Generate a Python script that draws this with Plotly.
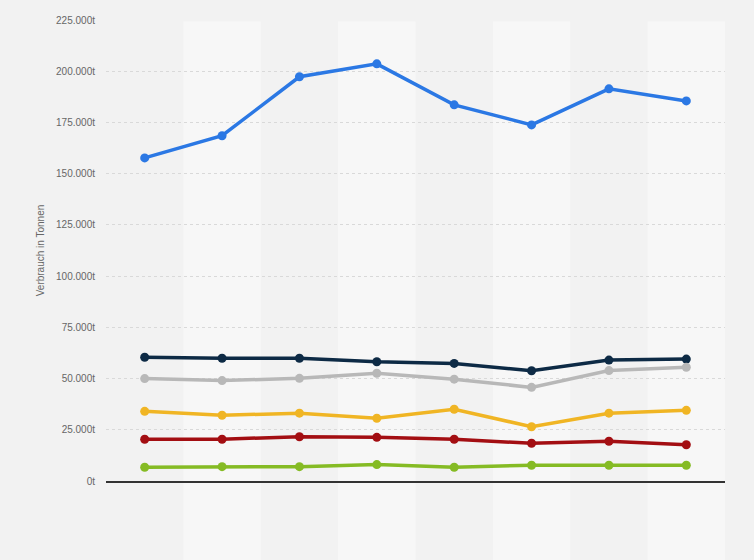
import plotly.graph_objects as go

categories = ["1", "2", "3", "4", "5", "6", "7", "8"]
series_names = ["Serie 1", "Serie 2", "Serie 3", "Serie 4", "Serie 5", "Serie 6"]
s1 = [157700, 168500, 197300, 203600, 183600, 173800, 191400, 185500]
s2 = [60400, 59900, 59900, 58200, 57400, 53800, 59000, 59500]
s3 = [50000, 49000, 50100, 52600, 49700, 45700, 53900, 55500]
s4 = [34000, 32100, 33100, 30600, 35000, 26500, 33100, 34500]
s5 = [20400, 20400, 21600, 21300, 20400, 18400, 19400, 17700]
s6 = [6700, 7000, 7000, 8000, 6700, 7700, 7700, 7700]
colors = ["#2b78e4", "#0d2a45", "#b8b8b8", "#f0b524", "#a30e12", "#85bb24"]
y_ticks = [0, 25000, 50000, 75000, 100000, 125000, 150000, 175000, 200000, 225000]
y_tick_text = [f"{v:,}".replace(",", ".") + "t" for v in y_ticks]

fig = go.Figure()
for name, vals, c in zip(series_names, [s1, s2, s3, s4, s5, s6], colors):
    fig.add_trace(go.Scatter(
        x=categories, y=vals, name=name, mode="lines+markers",
        line=dict(color=c, width=3.5),
        marker=dict(color=c, size=9),
        hoverinfo="y",
    ))

# alternating vertical bands
n = len(categories)
for i in range(n):
    if i % 2 == 1:
        fig.add_shape(type="rect", xref="x", yref="paper",
                      x0=i - 0.5, x1=i + 0.5, y0=-0.175, y1=0.997,
                      fillcolor="#f7f7f7", line_width=0, layer="below")

fig.update_layout(
    width=754, height=560,
    margin=dict(l=106, r=29, t=20, b=79),
    paper_bgcolor="#f2f2f2",
    plot_bgcolor="rgba(0,0,0,0)",
    showlegend=False,
    font=dict(family="Arial, Liberation Sans, sans-serif", color="#666666", size=10),
)
fig.update_xaxes(
    range=[-0.5, n - 0.5], showticklabels=False, showgrid=False,
    zeroline=False, showline=True, linecolor="#333333", linewidth=1.5, ticks="",
)
fig.update_yaxes(
    range=[0, 225000], tickvals=y_ticks, ticktext=y_tick_text,
    showgrid=True, gridcolor="#d9d9d9", griddash="dot", gridwidth=1,
    zeroline=False, showline=False, ticks="", ticklabelstandoff=10,
    title=dict(text="Verbrauch in Tonnen", font=dict(size=10, color="#666666"), standoff=9),
)

fig.write_html(
    "out.html",
    config={"displayModeBar": False},
    post_script="document.body.style.margin='0';document.body.style.background='#f2f2f2';"
                "document.body.style.overflow='hidden';window.dispatchEvent(new Event('resize'));",
)
